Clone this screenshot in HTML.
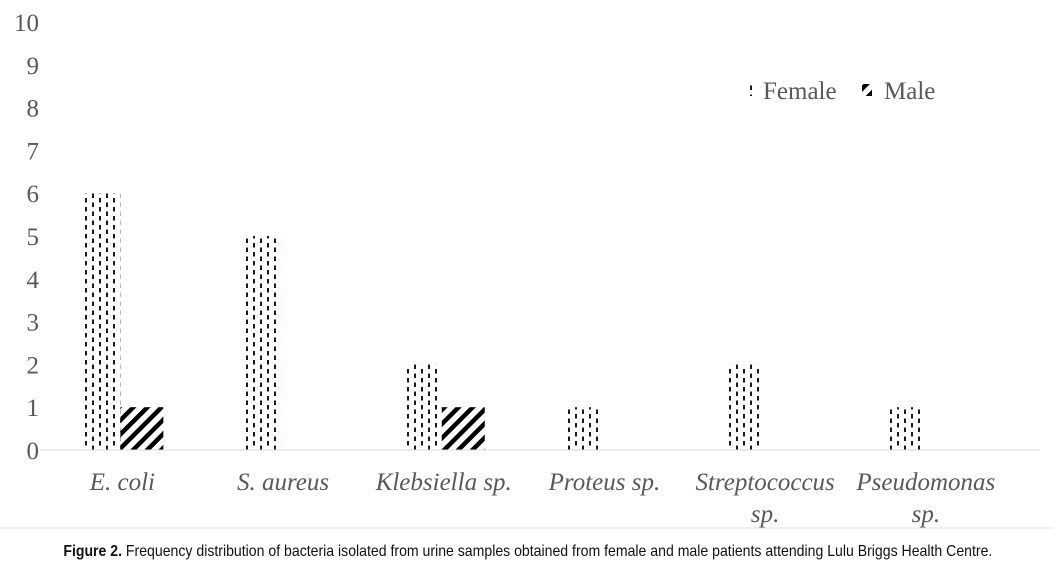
<!DOCTYPE html>
<html><head><meta charset="utf-8"><style>
body{margin:0;background:#fff;width:1054px;height:578px;overflow:hidden;font-family:"Liberation Serif",serif}
#cap{position:absolute;top:543px;left:0;width:1054px;text-align:center;font-family:"Liberation Sans",sans-serif;font-size:16px;color:#111}
#cap span{display:inline-block;transform:scaleX(0.88);transform-origin:center;white-space:nowrap}
</style></head><body>
<svg id="chart" width="1054" height="540" style="position:absolute;left:0;top:0">
<defs>
<pattern id="pf" patternUnits="userSpaceOnUse" width="14" height="9">
<line x1="2" y1="0" x2="2" y2="4.5" stroke="#000" stroke-width="1.8"/>
<line x1="9" y1="4.5" x2="9" y2="9" stroke="#000" stroke-width="1.8"/>
</pattern>
<pattern id="pm" patternUnits="userSpaceOnUse" width="10" height="10" patternTransform="rotate(45)">
<rect x="0" y="0" width="4.5" height="10" fill="#000"/>
</pattern>
</defs>
<g id="yaxis"></g><g id="bars"></g><g id="xaxis"></g>
<line x1="40" y1="450" x2="1040" y2="450" stroke="#d9d9d9" stroke-width="1"/>
<line x1="0" y1="528" x2="1054" y2="528" stroke="#e5e5e5" stroke-width="1"/>
<g>
<rect x="745" y="84" width="9" height="12" fill="url(#pf)"/>
<text x="763" y="99" font-size="25" fill="#595959">Female</text>
<rect x="862" y="84" width="10" height="12" fill="url(#pm)"/>
<text x="884" y="99" font-size="25" fill="#595959">Male</text>
</g>
</svg>
<div id="cap"><span><b>Figure 2.</b> Frequency distribution of bacteria isolated from urine samples obtained from female and male patients attending Lulu Briggs Health Centre.</span></div>
<script>
const categories=[["E. coli"],["S. aureus"],["Klebsiella sp."],["Proteus sp."],["Streptococcus","sp."],["Pseudomonas","sp."]];
const female=[6,5,2,1,2,1];
const male=[1,0,1,0,0,0];
const yTicks=[0,1,2,3,4,5,6,7,8,9,10];
const NS="http://www.w3.org/2000/svg";
const y0=450,yTop=22,yMax=10,xStart=41,step=160.7;
function y(v){return y0-(y0-yTop)*v/yMax;}
function xc(i){return xStart+step*(i+0.5);}
function mk(t,a){const e=document.createElementNS(NS,t);for(const k in a)e.setAttribute(k,a[k]);return e;}
const ya=document.getElementById('yaxis');
yTicks.forEach(t=>{const e=mk('text',{x:39,y:y(t)+9,'text-anchor':'end','font-size':25,fill:'#595959'});


e.textContent=t;ya.appendChild(e);});
const bg=document.getElementById('bars');
categories.forEach((c,i)=>{
 const cx=xc(i);
 if(female[i]>0){const r=mk('rect',{x:cx-39,y:y(female[i]),width:38,height:y0-y(female[i]),fill:'url(#pf)'});
 
 
 bg.appendChild(r);}
 if(male[i]>0){const r=mk('rect',{x:cx-1,y:y(male[i]),width:43,height:y0-y(male[i]),fill:'url(#pm)'});
 
 
 bg.appendChild(r);}
 const xa=document.getElementById('xaxis');
 c.forEach((ln,j)=>{const e=mk('text',{x:cx+1,y:490+j*32,'text-anchor':'middle','font-size':25,'font-style':'italic',fill:'#595959'});
 
 
 e.textContent=ln;xa.appendChild(e);});
});
</script>
</body></html>
